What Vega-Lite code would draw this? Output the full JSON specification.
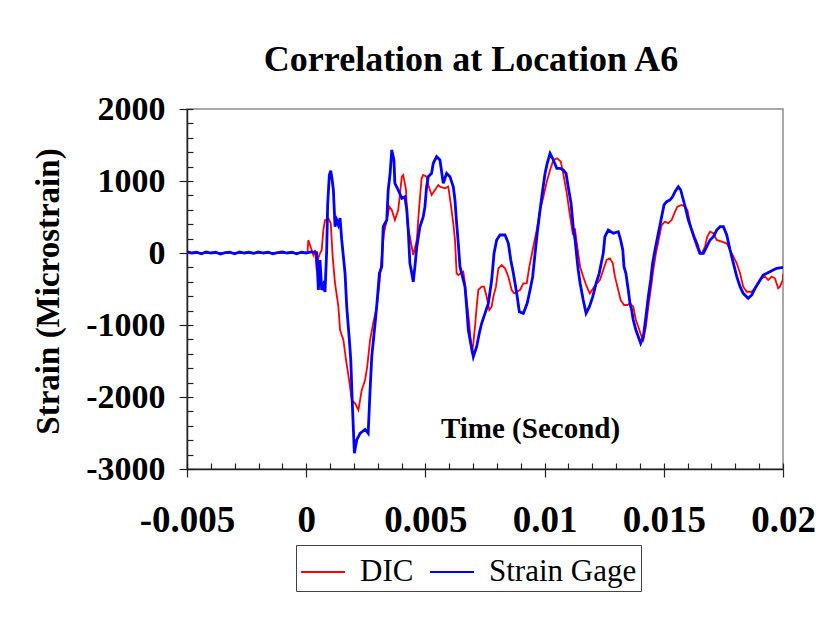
{
  "$schema": "https://vega.github.io/schema/vega-lite/v6.json",
  "autosize": "none",
  "width": 596,
  "height": 360,
  "padding": {"left": 187, "top": 109, "right": 57, "bottom": 159},
  "background": "white",
  "title": {
    "text": "Correlation at Location A6",
    "font": "Liberation Serif",
    "fontSize": 36,
    "fontWeight": "bold",
    "color": "black",
    "anchor": "middle",
    "dx": -14,
    "offset": 13
  },
  "config": {
    "view": {"stroke": "#8a8a8a", "strokeWidth": 1.5},
    "axis": {"grid": false}
  },
  "datasets": {
    "dic": [
      {"t": -0.005, "s": 0, "series": "DIC"},
      {"t": 0.00005, "s": 0, "series": "DIC"},
      {"t": 0.00009, "s": 181, "series": "DIC"},
      {"t": 0.00016, "s": 111, "series": "DIC"},
      {"t": 0.00023, "s": 42, "series": "DIC"},
      {"t": 0.0003, "s": -28, "series": "DIC"},
      {"t": 0.00037, "s": 42, "series": "DIC"},
      {"t": 0.00044, "s": -236, "series": "DIC"},
      {"t": 0.00051, "s": -69, "series": "DIC"},
      {"t": 0.00058, "s": -4, "series": "DIC"},
      {"t": 0.00065, "s": 42, "series": "DIC"},
      {"t": 0.00072, "s": 319, "series": "DIC"},
      {"t": 0.00079, "s": 458, "series": "DIC"},
      {"t": 0.00093, "s": 482, "series": "DIC"},
      {"t": 0.00103, "s": 413, "series": "DIC"},
      {"t": 0.00111, "s": -51, "series": "DIC"},
      {"t": 0.00121, "s": -421, "series": "DIC"},
      {"t": 0.00135, "s": -746, "series": "DIC"},
      {"t": 0.00142, "s": -1069, "series": "DIC"},
      {"t": 0.00156, "s": -1208, "series": "DIC"},
      {"t": 0.00167, "s": -1486, "series": "DIC"},
      {"t": 0.0018, "s": -1764, "series": "DIC"},
      {"t": 0.00191, "s": -2042, "series": "DIC"},
      {"t": 0.00205, "s": -2088, "series": "DIC"},
      {"t": 0.00219, "s": -2181, "series": "DIC"},
      {"t": 0.00233, "s": -1903, "series": "DIC"},
      {"t": 0.00247, "s": -1764, "series": "DIC"},
      {"t": 0.00256, "s": -1579, "series": "DIC"},
      {"t": 0.00268, "s": -1208, "series": "DIC"},
      {"t": 0.00281, "s": -976, "series": "DIC"},
      {"t": 0.00296, "s": -746, "series": "DIC"},
      {"t": 0.00307, "s": -421, "series": "DIC"},
      {"t": 0.00317, "s": -51, "series": "DIC"},
      {"t": 0.00326, "s": 274, "series": "DIC"},
      {"t": 0.00338, "s": 458, "series": "DIC"},
      {"t": 0.00349, "s": 643, "series": "DIC"},
      {"t": 0.00359, "s": 597, "series": "DIC"},
      {"t": 0.00372, "s": 458, "series": "DIC"},
      {"t": 0.00386, "s": 597, "series": "DIC"},
      {"t": 0.00401, "s": 1060, "series": "DIC"},
      {"t": 0.00407, "s": 1083, "series": "DIC"},
      {"t": 0.00419, "s": 875, "series": "DIC"},
      {"t": 0.00424, "s": 413, "series": "DIC"},
      {"t": 0.00435, "s": 226, "series": "DIC"},
      {"t": 0.00449, "s": -28, "series": "DIC"},
      {"t": 0.00464, "s": 181, "series": "DIC"},
      {"t": 0.00474, "s": 643, "series": "DIC"},
      {"t": 0.00484, "s": 1037, "series": "DIC"},
      {"t": 0.00491, "s": 1083, "series": "DIC"},
      {"t": 0.00505, "s": 1060, "series": "DIC"},
      {"t": 0.00512, "s": 944, "series": "DIC"},
      {"t": 0.00526, "s": 806, "series": "DIC"},
      {"t": 0.0054, "s": 875, "series": "DIC"},
      {"t": 0.00554, "s": 944, "series": "DIC"},
      {"t": 0.00561, "s": 921, "series": "DIC"},
      {"t": 0.00582, "s": 899, "series": "DIC"},
      {"t": 0.00596, "s": 921, "series": "DIC"},
      {"t": 0.00606, "s": 690, "series": "DIC"},
      {"t": 0.00617, "s": 413, "series": "DIC"},
      {"t": 0.00624, "s": 181, "series": "DIC"},
      {"t": 0.00631, "s": -282, "series": "DIC"},
      {"t": 0.00638, "s": -306, "series": "DIC"},
      {"t": 0.00659, "s": -260, "series": "DIC"},
      {"t": 0.00666, "s": -421, "series": "DIC"},
      {"t": 0.00673, "s": -653, "series": "DIC"},
      {"t": 0.00684, "s": -976, "series": "DIC"},
      {"t": 0.0069, "s": -1208, "series": "DIC"},
      {"t": 0.00695, "s": -1393, "series": "DIC"},
      {"t": 0.00701, "s": -1254, "series": "DIC"},
      {"t": 0.00708, "s": -1024, "series": "DIC"},
      {"t": 0.00715, "s": -746, "series": "DIC"},
      {"t": 0.00722, "s": -514, "series": "DIC"},
      {"t": 0.00736, "s": -468, "series": "DIC"},
      {"t": 0.00746, "s": -468, "series": "DIC"},
      {"t": 0.00757, "s": -607, "series": "DIC"},
      {"t": 0.00768, "s": -792, "series": "DIC"},
      {"t": 0.00778, "s": -746, "series": "DIC"},
      {"t": 0.00785, "s": -607, "series": "DIC"},
      {"t": 0.00796, "s": -468, "series": "DIC"},
      {"t": 0.00806, "s": -213, "series": "DIC"},
      {"t": 0.0082, "s": -167, "series": "DIC"},
      {"t": 0.00834, "s": -213, "series": "DIC"},
      {"t": 0.00848, "s": -329, "series": "DIC"},
      {"t": 0.00862, "s": -514, "series": "DIC"},
      {"t": 0.00872, "s": -560, "series": "DIC"},
      {"t": 0.00883, "s": -538, "series": "DIC"},
      {"t": 0.00897, "s": -514, "series": "DIC"},
      {"t": 0.00911, "s": -421, "series": "DIC"},
      {"t": 0.00925, "s": -421, "series": "DIC"},
      {"t": 0.00936, "s": -190, "series": "DIC"},
      {"t": 0.0095, "s": 42, "series": "DIC"},
      {"t": 0.00967, "s": 319, "series": "DIC"},
      {"t": 0.00981, "s": 597, "series": "DIC"},
      {"t": 0.00995, "s": 782, "series": "DIC"},
      {"t": 0.01009, "s": 990, "series": "DIC"},
      {"t": 0.01023, "s": 1153, "series": "DIC"},
      {"t": 0.01037, "s": 1292, "series": "DIC"},
      {"t": 0.01053, "s": 1315, "series": "DIC"},
      {"t": 0.01068, "s": 1268, "series": "DIC"},
      {"t": 0.01078, "s": 1107, "series": "DIC"},
      {"t": 0.01093, "s": 829, "series": "DIC"},
      {"t": 0.01107, "s": 504, "series": "DIC"},
      {"t": 0.01118, "s": 274, "series": "DIC"},
      {"t": 0.01128, "s": 319, "series": "DIC"},
      {"t": 0.01137, "s": 88, "series": "DIC"},
      {"t": 0.01149, "s": -190, "series": "DIC"},
      {"t": 0.01162, "s": -329, "series": "DIC"},
      {"t": 0.01177, "s": -468, "series": "DIC"},
      {"t": 0.0119, "s": -560, "series": "DIC"},
      {"t": 0.01204, "s": -490, "series": "DIC"},
      {"t": 0.01219, "s": -421, "series": "DIC"},
      {"t": 0.01232, "s": -375, "series": "DIC"},
      {"t": 0.01246, "s": -236, "series": "DIC"},
      {"t": 0.0126, "s": -97, "series": "DIC"},
      {"t": 0.01274, "s": -74, "series": "DIC"},
      {"t": 0.01286, "s": -143, "series": "DIC"},
      {"t": 0.01295, "s": -329, "series": "DIC"},
      {"t": 0.01309, "s": -514, "series": "DIC"},
      {"t": 0.01319, "s": -653, "series": "DIC"},
      {"t": 0.01333, "s": -722, "series": "DIC"},
      {"t": 0.01347, "s": -722, "series": "DIC"},
      {"t": 0.01358, "s": -699, "series": "DIC"},
      {"t": 0.01372, "s": -746, "series": "DIC"},
      {"t": 0.01383, "s": -931, "series": "DIC"},
      {"t": 0.01393, "s": -1024, "series": "DIC"},
      {"t": 0.01407, "s": -1163, "series": "DIC"},
      {"t": 0.01414, "s": -1208, "series": "DIC"},
      {"t": 0.01425, "s": -1024, "series": "DIC"},
      {"t": 0.01435, "s": -746, "series": "DIC"},
      {"t": 0.01445, "s": -514, "series": "DIC"},
      {"t": 0.01456, "s": -236, "series": "DIC"},
      {"t": 0.01467, "s": -4, "series": "DIC"},
      {"t": 0.01481, "s": 226, "series": "DIC"},
      {"t": 0.01491, "s": 389, "series": "DIC"},
      {"t": 0.01505, "s": 435, "series": "DIC"},
      {"t": 0.01519, "s": 413, "series": "DIC"},
      {"t": 0.01533, "s": 458, "series": "DIC"},
      {"t": 0.01547, "s": 574, "series": "DIC"},
      {"t": 0.01557, "s": 643, "series": "DIC"},
      {"t": 0.01575, "s": 667, "series": "DIC"},
      {"t": 0.01589, "s": 643, "series": "DIC"},
      {"t": 0.01599, "s": 597, "series": "DIC"},
      {"t": 0.0161, "s": 413, "series": "DIC"},
      {"t": 0.01624, "s": 226, "series": "DIC"},
      {"t": 0.01638, "s": 88, "series": "DIC"},
      {"t": 0.01649, "s": -4, "series": "DIC"},
      {"t": 0.01659, "s": -4, "series": "DIC"},
      {"t": 0.01673, "s": 88, "series": "DIC"},
      {"t": 0.01682, "s": 226, "series": "DIC"},
      {"t": 0.01694, "s": 296, "series": "DIC"},
      {"t": 0.01708, "s": 274, "series": "DIC"},
      {"t": 0.01722, "s": 181, "series": "DIC"},
      {"t": 0.01743, "s": 157, "series": "DIC"},
      {"t": 0.01764, "s": 135, "series": "DIC"},
      {"t": 0.01778, "s": 42, "series": "DIC"},
      {"t": 0.01792, "s": -51, "series": "DIC"},
      {"t": 0.01806, "s": -143, "series": "DIC"},
      {"t": 0.0182, "s": -282, "series": "DIC"},
      {"t": 0.01833, "s": -468, "series": "DIC"},
      {"t": 0.01848, "s": -538, "series": "DIC"},
      {"t": 0.01869, "s": -538, "series": "DIC"},
      {"t": 0.01883, "s": -490, "series": "DIC"},
      {"t": 0.01896, "s": -421, "series": "DIC"},
      {"t": 0.01911, "s": -351, "series": "DIC"},
      {"t": 0.01925, "s": -329, "series": "DIC"},
      {"t": 0.01938, "s": -375, "series": "DIC"},
      {"t": 0.01953, "s": -329, "series": "DIC"},
      {"t": 0.01966, "s": -351, "series": "DIC"},
      {"t": 0.0198, "s": -490, "series": "DIC"},
      {"t": 0.01987, "s": -468, "series": "DIC"},
      {"t": 0.01999, "s": -375, "series": "DIC"},
      {"t": 0.02, "s": -290, "series": "DIC"}
    ],
    "gage": [
      {"t": -0.005, "s": 20, "series": "Strain Gage"},
      {"t": -0.0048, "s": 0, "series": "Strain Gage"},
      {"t": -0.0046, "s": 10, "series": "Strain Gage"},
      {"t": -0.0044, "s": -10, "series": "Strain Gage"},
      {"t": -0.0042, "s": 15, "series": "Strain Gage"},
      {"t": -0.004, "s": 0, "series": "Strain Gage"},
      {"t": -0.0038, "s": 10, "series": "Strain Gage"},
      {"t": -0.0036, "s": -15, "series": "Strain Gage"},
      {"t": -0.0034, "s": 5, "series": "Strain Gage"},
      {"t": -0.0032, "s": 10, "series": "Strain Gage"},
      {"t": -0.003, "s": -10, "series": "Strain Gage"},
      {"t": -0.0028, "s": 15, "series": "Strain Gage"},
      {"t": -0.0026, "s": 0, "series": "Strain Gage"},
      {"t": -0.0024, "s": 10, "series": "Strain Gage"},
      {"t": -0.0022, "s": -5, "series": "Strain Gage"},
      {"t": -0.002, "s": 15, "series": "Strain Gage"},
      {"t": -0.0018, "s": 0, "series": "Strain Gage"},
      {"t": -0.0016, "s": 10, "series": "Strain Gage"},
      {"t": -0.0014, "s": -10, "series": "Strain Gage"},
      {"t": -0.0012, "s": 5, "series": "Strain Gage"},
      {"t": -0.001, "s": 15, "series": "Strain Gage"},
      {"t": -0.0008, "s": 0, "series": "Strain Gage"},
      {"t": -0.0006, "s": 10, "series": "Strain Gage"},
      {"t": -0.0004, "s": -10, "series": "Strain Gage"},
      {"t": -0.0002, "s": 10, "series": "Strain Gage"},
      {"t": 0, "s": 0, "series": "Strain Gage"},
      {"t": 0.0002, "s": 15, "series": "Strain Gage"},
      {"t": 0.00044, "s": 5, "series": "Strain Gage"},
      {"t": 0.00051, "s": -514, "series": "Strain Gage"},
      {"t": 0.00058, "s": -97, "series": "Strain Gage"},
      {"t": 0.00065, "s": -514, "series": "Strain Gage"},
      {"t": 0.00072, "s": -444, "series": "Strain Gage"},
      {"t": 0.00079, "s": -542, "series": "Strain Gage"},
      {"t": 0.00086, "s": 42, "series": "Strain Gage"},
      {"t": 0.0009, "s": 667, "series": "Strain Gage"},
      {"t": 0.00097, "s": 1083, "series": "Strain Gage"},
      {"t": 0.00103, "s": 1143, "series": "Strain Gage"},
      {"t": 0.00109, "s": 1014, "series": "Strain Gage"},
      {"t": 0.00114, "s": 875, "series": "Strain Gage"},
      {"t": 0.00121, "s": 365, "series": "Strain Gage"},
      {"t": 0.00128, "s": 458, "series": "Strain Gage"},
      {"t": 0.00135, "s": 389, "series": "Strain Gage"},
      {"t": 0.00142, "s": 486, "series": "Strain Gage"},
      {"t": 0.00149, "s": 181, "series": "Strain Gage"},
      {"t": 0.00156, "s": -51, "series": "Strain Gage"},
      {"t": 0.00163, "s": -282, "series": "Strain Gage"},
      {"t": 0.0017, "s": -746, "series": "Strain Gage"},
      {"t": 0.00181, "s": -1208, "series": "Strain Gage"},
      {"t": 0.00187, "s": -1486, "series": "Strain Gage"},
      {"t": 0.00193, "s": -2042, "series": "Strain Gage"},
      {"t": 0.00198, "s": -2458, "series": "Strain Gage"},
      {"t": 0.00202, "s": -2782, "series": "Strain Gage"},
      {"t": 0.00212, "s": -2597, "series": "Strain Gage"},
      {"t": 0.00226, "s": -2504, "series": "Strain Gage"},
      {"t": 0.00247, "s": -2450, "series": "Strain Gage"},
      {"t": 0.0026, "s": -2504, "series": "Strain Gage"},
      {"t": 0.00268, "s": -1903, "series": "Strain Gage"},
      {"t": 0.00275, "s": -1440, "series": "Strain Gage"},
      {"t": 0.00289, "s": -976, "series": "Strain Gage"},
      {"t": 0.00298, "s": -653, "series": "Strain Gage"},
      {"t": 0.00307, "s": -282, "series": "Strain Gage"},
      {"t": 0.00317, "s": -190, "series": "Strain Gage"},
      {"t": 0.00323, "s": 365, "series": "Strain Gage"},
      {"t": 0.00338, "s": 458, "series": "Strain Gage"},
      {"t": 0.00344, "s": 875, "series": "Strain Gage"},
      {"t": 0.00352, "s": 1107, "series": "Strain Gage"},
      {"t": 0.00359, "s": 1431, "series": "Strain Gage"},
      {"t": 0.00368, "s": 1292, "series": "Strain Gage"},
      {"t": 0.00372, "s": 968, "series": "Strain Gage"},
      {"t": 0.00386, "s": 875, "series": "Strain Gage"},
      {"t": 0.00401, "s": 760, "series": "Strain Gage"},
      {"t": 0.00414, "s": 782, "series": "Strain Gage"},
      {"t": 0.00422, "s": 597, "series": "Strain Gage"},
      {"t": 0.00428, "s": 319, "series": "Strain Gage"},
      {"t": 0.00435, "s": -143, "series": "Strain Gage"},
      {"t": 0.00443, "s": -282, "series": "Strain Gage"},
      {"t": 0.00449, "s": -399, "series": "Strain Gage"},
      {"t": 0.00456, "s": -190, "series": "Strain Gage"},
      {"t": 0.00464, "s": 88, "series": "Strain Gage"},
      {"t": 0.00477, "s": 365, "series": "Strain Gage"},
      {"t": 0.00491, "s": 504, "series": "Strain Gage"},
      {"t": 0.00498, "s": 643, "series": "Strain Gage"},
      {"t": 0.00505, "s": 921, "series": "Strain Gage"},
      {"t": 0.00512, "s": 1060, "series": "Strain Gage"},
      {"t": 0.00526, "s": 1107, "series": "Strain Gage"},
      {"t": 0.00533, "s": 1246, "series": "Strain Gage"},
      {"t": 0.00547, "s": 1338, "series": "Strain Gage"},
      {"t": 0.00561, "s": 1292, "series": "Strain Gage"},
      {"t": 0.00575, "s": 968, "series": "Strain Gage"},
      {"t": 0.00589, "s": 1107, "series": "Strain Gage"},
      {"t": 0.00603, "s": 1060, "series": "Strain Gage"},
      {"t": 0.00617, "s": 921, "series": "Strain Gage"},
      {"t": 0.00624, "s": 736, "series": "Strain Gage"},
      {"t": 0.00631, "s": 413, "series": "Strain Gage"},
      {"t": 0.00638, "s": 135, "series": "Strain Gage"},
      {"t": 0.00645, "s": -190, "series": "Strain Gage"},
      {"t": 0.00659, "s": -375, "series": "Strain Gage"},
      {"t": 0.00666, "s": -468, "series": "Strain Gage"},
      {"t": 0.00673, "s": -746, "series": "Strain Gage"},
      {"t": 0.0068, "s": -1069, "series": "Strain Gage"},
      {"t": 0.0069, "s": -1254, "series": "Strain Gage"},
      {"t": 0.00701, "s": -1440, "series": "Strain Gage"},
      {"t": 0.00715, "s": -1301, "series": "Strain Gage"},
      {"t": 0.00726, "s": -1115, "series": "Strain Gage"},
      {"t": 0.00736, "s": -976, "series": "Strain Gage"},
      {"t": 0.0075, "s": -838, "series": "Strain Gage"},
      {"t": 0.00764, "s": -699, "series": "Strain Gage"},
      {"t": 0.00778, "s": -375, "series": "Strain Gage"},
      {"t": 0.00788, "s": -4, "series": "Strain Gage"},
      {"t": 0.00799, "s": 181, "series": "Strain Gage"},
      {"t": 0.00813, "s": 250, "series": "Strain Gage"},
      {"t": 0.00834, "s": 250, "series": "Strain Gage"},
      {"t": 0.00848, "s": 135, "series": "Strain Gage"},
      {"t": 0.00858, "s": -97, "series": "Strain Gage"},
      {"t": 0.00869, "s": -282, "series": "Strain Gage"},
      {"t": 0.00883, "s": -560, "series": "Strain Gage"},
      {"t": 0.00894, "s": -815, "series": "Strain Gage"},
      {"t": 0.00911, "s": -838, "series": "Strain Gage"},
      {"t": 0.00927, "s": -699, "series": "Strain Gage"},
      {"t": 0.00939, "s": -514, "series": "Strain Gage"},
      {"t": 0.0095, "s": -329, "series": "Strain Gage"},
      {"t": 0.0096, "s": -4, "series": "Strain Gage"},
      {"t": 0.00969, "s": 274, "series": "Strain Gage"},
      {"t": 0.00981, "s": 597, "series": "Strain Gage"},
      {"t": 0.00992, "s": 875, "series": "Strain Gage"},
      {"t": 0.01002, "s": 1107, "series": "Strain Gage"},
      {"t": 0.01011, "s": 1246, "series": "Strain Gage"},
      {"t": 0.01023, "s": 1385, "series": "Strain Gage"},
      {"t": 0.01037, "s": 1292, "series": "Strain Gage"},
      {"t": 0.01051, "s": 1176, "series": "Strain Gage"},
      {"t": 0.01065, "s": 1176, "series": "Strain Gage"},
      {"t": 0.01078, "s": 1153, "series": "Strain Gage"},
      {"t": 0.0109, "s": 1107, "series": "Strain Gage"},
      {"t": 0.01099, "s": 921, "series": "Strain Gage"},
      {"t": 0.01111, "s": 690, "series": "Strain Gage"},
      {"t": 0.0112, "s": 365, "series": "Strain Gage"},
      {"t": 0.01128, "s": 181, "series": "Strain Gage"},
      {"t": 0.01135, "s": -51, "series": "Strain Gage"},
      {"t": 0.01141, "s": -236, "series": "Strain Gage"},
      {"t": 0.01149, "s": -421, "series": "Strain Gage"},
      {"t": 0.01162, "s": -653, "series": "Strain Gage"},
      {"t": 0.01174, "s": -838, "series": "Strain Gage"},
      {"t": 0.01188, "s": -746, "series": "Strain Gage"},
      {"t": 0.01202, "s": -607, "series": "Strain Gage"},
      {"t": 0.01216, "s": -421, "series": "Strain Gage"},
      {"t": 0.01229, "s": -282, "series": "Strain Gage"},
      {"t": 0.01246, "s": -4, "series": "Strain Gage"},
      {"t": 0.01253, "s": 226, "series": "Strain Gage"},
      {"t": 0.01267, "s": 319, "series": "Strain Gage"},
      {"t": 0.01288, "s": 274, "series": "Strain Gage"},
      {"t": 0.01309, "s": 296, "series": "Strain Gage"},
      {"t": 0.01319, "s": 181, "series": "Strain Gage"},
      {"t": 0.01328, "s": 42, "series": "Strain Gage"},
      {"t": 0.01333, "s": -190, "series": "Strain Gage"},
      {"t": 0.01341, "s": -282, "series": "Strain Gage"},
      {"t": 0.01351, "s": -514, "series": "Strain Gage"},
      {"t": 0.01358, "s": -699, "series": "Strain Gage"},
      {"t": 0.01365, "s": -792, "series": "Strain Gage"},
      {"t": 0.01372, "s": -931, "series": "Strain Gage"},
      {"t": 0.01383, "s": -1069, "series": "Strain Gage"},
      {"t": 0.01393, "s": -1163, "series": "Strain Gage"},
      {"t": 0.01403, "s": -1254, "series": "Strain Gage"},
      {"t": 0.01414, "s": -1163, "series": "Strain Gage"},
      {"t": 0.01425, "s": -885, "series": "Strain Gage"},
      {"t": 0.01435, "s": -607, "series": "Strain Gage"},
      {"t": 0.01445, "s": -375, "series": "Strain Gage"},
      {"t": 0.01453, "s": -143, "series": "Strain Gage"},
      {"t": 0.01463, "s": 42, "series": "Strain Gage"},
      {"t": 0.01477, "s": 274, "series": "Strain Gage"},
      {"t": 0.01491, "s": 504, "series": "Strain Gage"},
      {"t": 0.01501, "s": 667, "series": "Strain Gage"},
      {"t": 0.01512, "s": 713, "series": "Strain Gage"},
      {"t": 0.01526, "s": 736, "series": "Strain Gage"},
      {"t": 0.01537, "s": 782, "series": "Strain Gage"},
      {"t": 0.01547, "s": 851, "series": "Strain Gage"},
      {"t": 0.01561, "s": 921, "series": "Strain Gage"},
      {"t": 0.01571, "s": 875, "series": "Strain Gage"},
      {"t": 0.01582, "s": 736, "series": "Strain Gage"},
      {"t": 0.01593, "s": 597, "series": "Strain Gage"},
      {"t": 0.01603, "s": 458, "series": "Strain Gage"},
      {"t": 0.01617, "s": 319, "series": "Strain Gage"},
      {"t": 0.01627, "s": 226, "series": "Strain Gage"},
      {"t": 0.01638, "s": 135, "series": "Strain Gage"},
      {"t": 0.01652, "s": -4, "series": "Strain Gage"},
      {"t": 0.01666, "s": -4, "series": "Strain Gage"},
      {"t": 0.0168, "s": 88, "series": "Strain Gage"},
      {"t": 0.01694, "s": 181, "series": "Strain Gage"},
      {"t": 0.01708, "s": 226, "series": "Strain Gage"},
      {"t": 0.01722, "s": 319, "series": "Strain Gage"},
      {"t": 0.01736, "s": 365, "series": "Strain Gage"},
      {"t": 0.0175, "s": 365, "series": "Strain Gage"},
      {"t": 0.01764, "s": 250, "series": "Strain Gage"},
      {"t": 0.01778, "s": 42, "series": "Strain Gage"},
      {"t": 0.01792, "s": -143, "series": "Strain Gage"},
      {"t": 0.01806, "s": -329, "series": "Strain Gage"},
      {"t": 0.0182, "s": -468, "series": "Strain Gage"},
      {"t": 0.01833, "s": -560, "series": "Strain Gage"},
      {"t": 0.01854, "s": -629, "series": "Strain Gage"},
      {"t": 0.01869, "s": -583, "series": "Strain Gage"},
      {"t": 0.01883, "s": -490, "series": "Strain Gage"},
      {"t": 0.01904, "s": -375, "series": "Strain Gage"},
      {"t": 0.01917, "s": -306, "series": "Strain Gage"},
      {"t": 0.01932, "s": -282, "series": "Strain Gage"},
      {"t": 0.01945, "s": -260, "series": "Strain Gage"},
      {"t": 0.01959, "s": -236, "series": "Strain Gage"},
      {"t": 0.01974, "s": -213, "series": "Strain Gage"},
      {"t": 0.02, "s": -199, "series": "Strain Gage"}
    ]
  },
  "resolve": {"axis": {"x": "independent", "y": "independent"}},
  "layer": [
    {
      "data": {"name": "dic"},
      "mark": {"type": "line", "strokeWidth": 1.8, "clip": true},
      "encoding": {
        "x": {
          "field": "t",
          "type": "quantitative",
          "scale": {"domain": [-0.005, 0.02], "nice": false, "zero": false},
          "axis": {
            "orient": "bottom",
            "values": [-0.005, 0, 0.005, 0.01, 0.015, 0.02],
            "format": "~g",
            "labelExpr": "replace(datum.label, '\u2212', '-')",
            "labelFont": "Liberation Serif",
            "labelFontSize": 37,
            "labelFontWeight": "bold",
            "labelColor": "black",
            "labelPadding": 25,
            "labelFlush": false,
            "labelOverlap": false,
            "tickSize": 8,
            "tickColor": "#222",
            "tickWidth": 1.2,
            "domainColor": "#222",
            "domainWidth": 1.5,
            "grid": false,
            "title": "Time (Second)",
            "titleFont": "Liberation Serif",
            "titleFontSize": 29,
            "titleFontWeight": "bold",
            "titleColor": "black",
            "titleX": 343,
            "titleY": -41,
            "titleBaseline": "middle",
            "titleAlign": "center"
          }
        },
        "y": {
          "field": "s",
          "type": "quantitative",
          "scale": {"domain": [-3000, 2000], "nice": false, "zero": false},
          "axis": {
            "orient": "left",
            "values": [-3000, -2000, -1000, 0, 1000, 2000],
            "format": "d",
            "labelExpr": "replace(datum.label, '\u2212', '-')",
            "labelFont": "Liberation Serif",
            "labelFontSize": 34,
            "labelFontWeight": "bold",
            "labelColor": "black",
            "labelPadding": 14,
            "labelFlush": false,
            "labelOverlap": false,
            "tickSize": 8,
            "tickColor": "#222",
            "tickWidth": 1.2,
            "domainColor": "#222",
            "domainWidth": 1.5,
            "grid": false,
            "title": "Strain (Microstrain)",
            "titleFont": "Liberation Serif",
            "titleFontSize": 33,
            "titleFontWeight": "bold",
            "titleColor": "black",
            "titleX": -139,
            "titleY": 182,
            "titleAngle": -90,
            "titleBaseline": "middle",
            "titleAlign": "center"
          }
        },
        "color": {
          "field": "series",
          "type": "nominal",
          "scale": {"domain": ["DIC", "Strain Gage"], "range": ["#ff0000", "#0000ff"]},
          "legend": {
            "title": null,
            "orient": "none",
            "legendX": 109,
            "legendY": 436,
            "direction": "horizontal",
            "symbolType": "stroke",
            "symbolSize": 1936,
            "symbolStrokeWidth": 2,
            "labelFont": "Liberation Serif",
            "labelFontSize": 31,
            "labelColor": "black",
            "labelOffset": 14,
            "columnPadding": 12,
            "padding": 4,
            "strokeColor": "#444",
            "fillColor": "white"
          }
        }
      }
    },
    {
      "data": {"name": "gage"},
      "mark": {"type": "line", "strokeWidth": 2.8, "clip": true},
      "encoding": {
        "x": {
          "field": "t",
          "type": "quantitative",
          "axis": {
            "orient": "bottom",
            "values": [-0.005, -0.004, -0.003, -0.002, -0.001, 0, 0.001, 0.002, 0.003, 0.004, 0.005, 0.006, 0.007, 0.008, 0.009, 0.01, 0.011, 0.012, 0.013, 0.014, 0.015, 0.016, 0.017, 0.018, 0.019, 0.02],
            "labels": false,
            "domain": false,
            "tickSize": -6,
            "tickColor": "#222",
            "tickWidth": 1.2,
            "grid": false,
            "title": null
          }
        },
        "y": {
          "field": "s",
          "type": "quantitative",
          "axis": {
            "orient": "left",
            "values": [-3000, -2800, -2600, -2400, -2200, -2000, -1800, -1600, -1400, -1200, -1000, -800, -600, -400, -200, 0, 200, 400, 600, 800, 1000, 1200, 1400, 1600, 1800, 2000],
            "labels": false,
            "domain": false,
            "tickSize": -6,
            "tickColor": "#222",
            "tickWidth": 1.2,
            "grid": false,
            "title": null
          }
        },
        "color": {"field": "series", "type": "nominal"}
      }
    }
  ]
}
